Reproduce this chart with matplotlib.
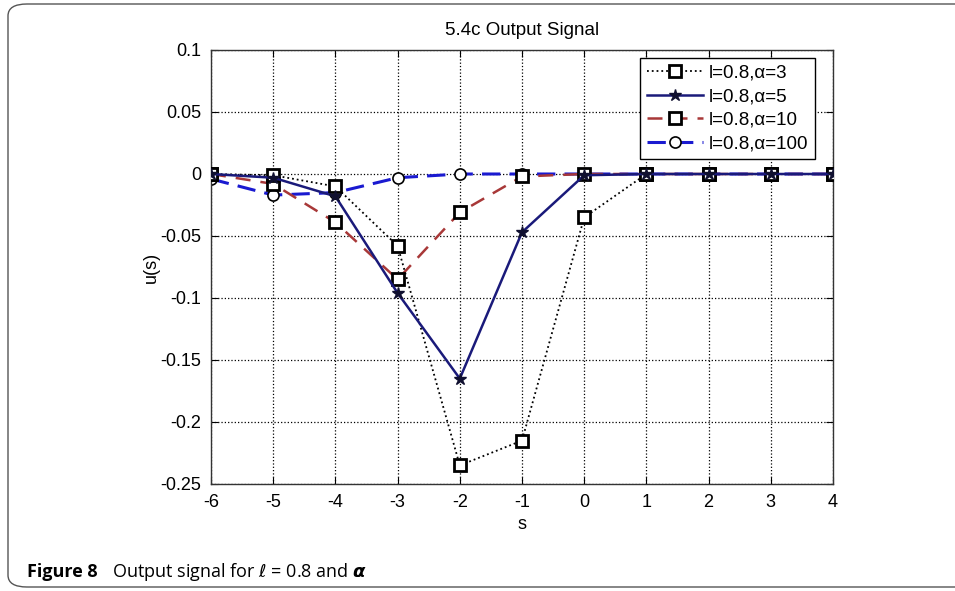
import numpy as np
import matplotlib
matplotlib.use('Agg')
import matplotlib.pyplot as plt
from matplotlib.patches import FancyBboxPatch

# data
s = [-6, -5, -4, -3, -2, -1, 0, 1, 2, 3, 4]
u_a3 = [0.0, -0.001, -0.010, -0.058, -0.235, -0.215, -0.035, 0.0, 0.0, 0.0, 0.0]
u_a5 = [0.0, -0.003, -0.018, -0.096, -0.165, -0.047, -0.001, 0.0, 0.0, 0.0, 0.0]
u_a10 = [0.0, -0.008, -0.039, -0.085, -0.031, -0.002, 0.0, 0.0, 0.0, 0.0, 0.0]
u_a100 = [-0.004, -0.017, -0.015, -0.003, 0.0, 0.0, 0.0, 0.0, 0.0, 0.0, 0.0]
labels = ['l=0.8,α=3', 'l=0.8,α=5', 'l=0.8,α=10', 'l=0.8,α=100']
x_ticks = [-6, -5, -4, -3, -2, -1, 0, 1, 2, 3, 4]
y_ticks = [0.1, 0.05, 0, -0.05, -0.1, -0.15, -0.2, -0.25]
y_tick_labels = ['0.1', '0.05', '0', '-0.05', '-0.1', '-0.15', '-0.2', '-0.25']

plt.rcParams['font.family'] = ['Liberation Sans', 'DejaVu Sans']

fig = plt.figure(figsize=(9.55, 5.91), dpi=100)

# rounded frame around figure + caption (right edge runs off the image)
frame = FancyBboxPatch((8 / 955, 4 / 591), 1.1, 583 / 591,
                       boxstyle='round,pad=0,rounding_size=0.02',
                       transform=fig.transFigure, fill=False,
                       edgecolor='#555555', linewidth=1.0, clip_on=False)
fig.patches.append(frame)

ax = fig.add_axes([211 / 955, 1 - 484 / 591, 622 / 955, 434 / 591])

# zorder: circles under the others, like the reference
ax.plot(s, u_a3, color='black', linestyle=':', linewidth=1.3,
        marker='s', markersize=9, markerfacecolor='white',
        markeredgecolor='black', markeredgewidth=2, label=labels[0], zorder=4)
ax.plot(s, u_a5, color='#1a1a7a', linestyle='-', linewidth=1.8,
        marker='*', markersize=9, markerfacecolor='#101030',
        markeredgecolor='#101030', label=labels[1], zorder=5)
ax.plot(s, u_a10, color='#a83838', linestyle=(0, (6, 4)), linewidth=1.8,
        marker='s', markersize=9, markerfacecolor='white',
        markeredgecolor='black', markeredgewidth=2, label=labels[2], zorder=3)
ax.plot(s, u_a100, color='#1a1ad0', linestyle=(0, (6, 3)), linewidth=2.2,
        marker='o', markersize=8, markerfacecolor='white',
        markeredgecolor='black', markeredgewidth=1.2, label=labels[3], zorder=2)

ax.set_xlim(-6, 4)
ax.set_ylim(-0.25, 0.1)
ax.set_xticks(x_ticks)
ax.set_xticklabels([str(t) for t in x_ticks])
ax.set_yticks(y_ticks)
ax.set_yticklabels(y_tick_labels)
ax.tick_params(direction='in', labelsize=13, length=5, top=True, right=True)
ax.tick_params(axis='x', pad=7)
ax.tick_params(axis='y', pad=7)
ax.grid(True, linestyle=':', color='black', linewidth=0.9)
for sp in ax.spines.values():
    sp.set_linewidth(1.0)
    sp.set_color('#333333')

ax.set_title('5.4c Output Signal', fontsize=13.5, pad=11)
ax.set_xlabel('s', fontsize=13, labelpad=4)
ax.set_ylabel('u(s)', fontsize=13, labelpad=0)

leg = ax.legend(loc='upper right', bbox_to_anchor=(0.971, 0.982),
                borderaxespad=0, fontsize=13.5, frameon=True, fancybox=False,
                edgecolor='black', framealpha=1, handlelength=3.0,
                handletextpad=0.3, labelspacing=0.35, borderpad=0.35)
leg.get_frame().set_linewidth(1.0)

fig.text(27 / 955, 1 - 572 / 591, 'Figure 8', fontsize=13, fontweight='bold',
         family=['Open Sans', 'DejaVu Sans'], va='center', ha='left')
fig.text(112 / 955, 1 - 572 / 591, 'Output signal for $\\ell$ = 0.8 and $\\boldsymbol{\\alpha}$',
         fontsize=13, family=['Open Sans', 'DejaVu Sans'], va='center', ha='left')

fig.savefig('out.png', dpi=100)
